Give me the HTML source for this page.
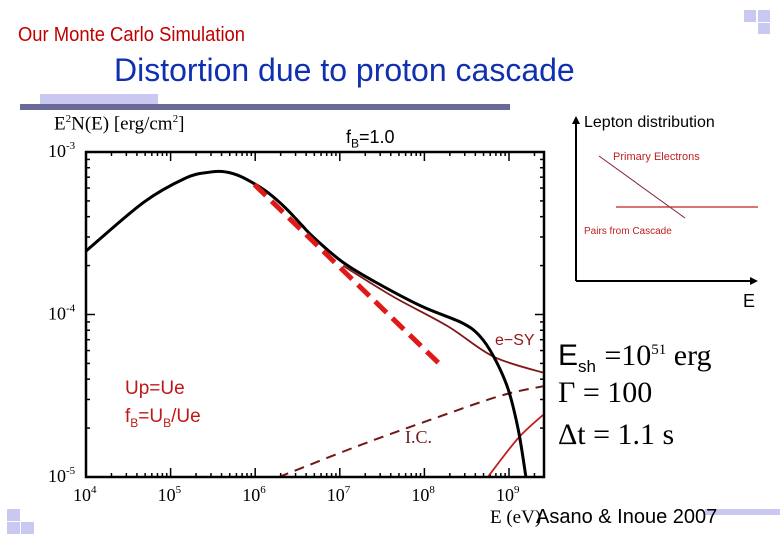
<!DOCTYPE html>
<html><head><meta charset="utf-8">
<style>
body{margin:0;width:780px;height:540px;background:#fff;overflow:hidden;position:relative;font-family:"Liberation Sans",sans-serif}
.a{position:absolute;white-space:nowrap}
.sq{position:absolute;background:#c8c8f0}
</style></head><body>
<div class="a" style="left:18px;top:24px;font-size:20px;color:#c00000;transform:scaleX(0.92);transform-origin:left">Our Monte Carlo Simulation</div>
<div class="a" style="left:114px;top:52px;font-size:32px;color:#1030b0">Distortion due to proton cascade</div>
<div class="sq" style="left:40px;top:94px;width:118px;height:12px"></div>
<div class="a" style="left:20px;top:104px;width:490px;height:6px;background:#6a6a9a"></div>
<div class="sq" style="left:744px;top:10px;width:12px;height:12px"></div>
<div class="sq" style="left:758px;top:10px;width:12px;height:12px"></div>
<div class="sq" style="left:758px;top:23px;width:12px;height:11px"></div>
<div class="sq" style="left:7px;top:509px;width:13px;height:12px"></div>
<div class="sq" style="left:7px;top:522px;width:13px;height:12px"></div>
<div class="sq" style="left:21px;top:522px;width:13px;height:12px"></div>
<div class="sq" style="left:705px;top:509px;width:75px;height:6px"></div>

<svg id="chart" width="780" height="540" style="position:absolute;left:0;top:0" xmlns="http://www.w3.org/2000/svg"></svg>

<div class="a" style="left:54px;top:113px;font-family:'Liberation Serif',serif;font-size:19px">E<sup style="font-size:11px">2</sup>N(E) [erg/cm<sup style="font-size:11px">2</sup>]</div>
<div class="a" style="left:346px;top:127px;font-size:18px">f<sub style="font-size:12px">B</sub>=1.0</div>
<div class="a" style="left:490px;top:507px;font-family:'Liberation Serif',serif;font-size:19px">E (eV)</div>
<div class="a" style="left:536px;top:506px;font-size:20px">Asano &amp; Inoue 2007</div>
<div class="a" style="left:495px;top:332px;font-size:16px;color:#901818">e−SY</div>
<div class="a" style="left:405px;top:427px;font-family:'Liberation Serif',serif;font-size:18px;color:#701818">I.C.</div>
<div class="a" style="left:125px;top:375px;font-size:19px;color:#c01818;line-height:28px">Up=Ue<br>f<sub style="font-size:12px">B</sub>=U<sub style="font-size:12px">B</sub>/Ue</div>
<div class="a" style="left:558px;top:330px;font-size:30px;line-height:40px">E<sub style="font-size:17px">sh</sub> <span style="font-family:'Liberation Serif',serif">=10<sup style="font-size:15px">51</sup> erg</span></div>
<div class="a" style="left:558px;top:376px;font-family:'Liberation Serif',serif;font-size:30px">Γ = 100</div>
<div class="a" style="left:558px;top:418px;font-family:'Liberation Serif',serif;font-size:30px">Δt = 1.1 s</div>
<div class="a" style="left:584px;top:114px;font-size:16px">Lepton distribution</div>
<div class="a" style="left:613px;top:151px;font-size:11px;color:#c02020">Primary Electrons</div>
<div class="a" style="left:584px;top:226px;font-size:10px;color:#c02020">Pairs from Cascade</div>
<div class="a" style="left:743px;top:291px;font-size:18px">E</div>

<script>
const totE=[4,4.68,5.18,5.45,5.61,5.78,5.94,6.15,6.37,6.55,6.70,7.04,7.42,7.97,8.44,8.65,8.82,8.99,9.11,9.20];
const totF=[-3.61,-3.31,-3.16,-3.125,-3.12,-3.14,-3.18,-3.25,-3.35,-3.45,-3.53,-3.68,-3.80,-3.95,-4.05,-4.13,-4.26,-4.46,-4.71,-5.0];
const syE=[7.04,7.63,8.27,8.82,9.42];
const syF=[-3.70,-3.89,-4.07,-4.26,-4.36];
const fitE=[5.99,8.21];
const fitF=[-3.20,-4.32];
const icE=[6.28,7.21,8.06,8.90,9.42];
const icF=[-5.0,-4.81,-4.65,-4.50,-4.44];
const pairE=[8.75,9.11,9.42];
const pairF=[-5.0,-4.76,-4.61];
const xT=[4,5,6,7,8,9];
const yT=[-3,-4,-5];
const X0=86,X1=544,Y0=152,Y1=477,XMIN=4,XMAX=4+(544-86)/84.6,YMIN=-5,YMAX=-3;
const sx=v=>X0+(v-XMIN)/(XMAX-XMIN)*(X1-X0);
const sy=v=>Y1-(v-YMIN)/(YMAX-YMIN)*(Y1-Y0);
const svg=document.getElementById('chart');
const NS='http://www.w3.org/2000/svg';
function mk(t,at){const e=document.createElementNS(NS,t);for(const k in at)e.setAttribute(k,at[k]);svg.appendChild(e);return e;}
function line(x1,y1,x2,y2,c,w){return mk('line',{x1,y1,x2,y2,stroke:c,'stroke-width':w});}
const defs=mk('defs',{});const cp=document.createElementNS(NS,'clipPath');cp.setAttribute('id','pc');
const cr=document.createElementNS(NS,'rect');cr.setAttribute('x',X0);cr.setAttribute('y',Y0);cr.setAttribute('width',X1-X0);cr.setAttribute('height',Y1-Y0);cp.appendChild(cr);defs.appendChild(cp);
for(let d=4;d<XMAX;d++){for(let m=1;m<10;m++){const v=d+Math.log10(m);if(v>XMAX)break;const x=sx(v);const L=m==1?9:4;
 const t1=line(x,Y1,x,Y1-L,'#000',1.5);
 const t2=line(x,Y0,x,Y0+L,'#000',1.5);}}
for(let d=-5;d<-3;d++){for(let m=1;m<10;m++){const v=d+Math.log10(m);const y=sy(v);const L=m==1?9:4;
 const t1=line(X0,y,X0+L,y,'#000',1.5);
 const t2=line(X1,y,X1-L,y,'#000',1.5);}}
xT.forEach(v=>{const t=mk('text',{x:sx(v)-13,y:Y1+24,'font-family':'Liberation Serif,serif','font-size':18});t.textContent='10';
 const s=document.createElementNS(NS,'tspan');s.setAttribute('dy','-8');s.setAttribute('font-size','11');s.textContent=v;t.appendChild(s);
 });
yT.forEach(v=>{const t=mk('text',{x:X0-38,y:sy(v)+5,'font-family':'Liberation Serif,serif','font-size':18});t.textContent='10';
 const s=document.createElementNS(NS,'tspan');s.setAttribute('dy','-8');s.setAttribute('font-size','11');s.textContent=v;t.appendChild(s);
 });
function path(E,F,c,w,dash,name){
 const P=E.map((e,i)=>[sx(e),sy(F[i])]);
 let d='M'+P[0][0].toFixed(1)+','+P[0][1].toFixed(1);
 for(let i=0;i<P.length-1;i++){const p0=P[Math.max(0,i-1)],p1=P[i],p2=P[i+1],p3=P[Math.min(P.length-1,i+2)];
  const c1=[p1[0]+(p2[0]-p0[0])/6,p1[1]+(p2[1]-p0[1])/6],c2=[p2[0]-(p3[0]-p1[0])/6,p2[1]-(p3[1]-p1[1])/6];
  d+='C'+c1.map(v=>v.toFixed(1))+' '+c2.map(v=>v.toFixed(1))+' '+p2.map(v=>v.toFixed(1));}
 const p=mk('path',{d,fill:'none',stroke:c,'stroke-width':w,'clip-path':'url(#pc)','stroke-linejoin':'round'});if(dash)p.setAttribute('stroke-dasharray',dash);
 return p;}
path(icE,icF,'#701818',2,'10,7','ic-curve');
path(pairE,pairF,'#c02020',1.8,null,'pair-sy-curve');
path(syE,syF,'#801818',1.8,null,'esy-curve');
path(totE,totF,'#000',3,null,'total-spectrum-curve');
path(fitE,fitF,'#e01818',5,'16,8','powerlaw-fit-dashed');
const fr=mk('rect',{x:X0,y:Y0,width:X1-X0,height:Y1-Y0,fill:'none',stroke:'#000','stroke-width':2.5});

const ax=mk('path',{d:'M576,281 L576,122 M576,281 L752,281',stroke:'#000','stroke-width':2,fill:'none'});

const ah1=mk('polygon',{points:'576,116 572,124 580,124',fill:'#000'});
const ah2=mk('polygon',{points:'758,281 750,277 750,285',fill:'#000'});
const l1=line(599,156,685,218,'#802040',1);
const l2=line(616,207,758,207,'#c02020',1.2);
</script>
</body></html>
